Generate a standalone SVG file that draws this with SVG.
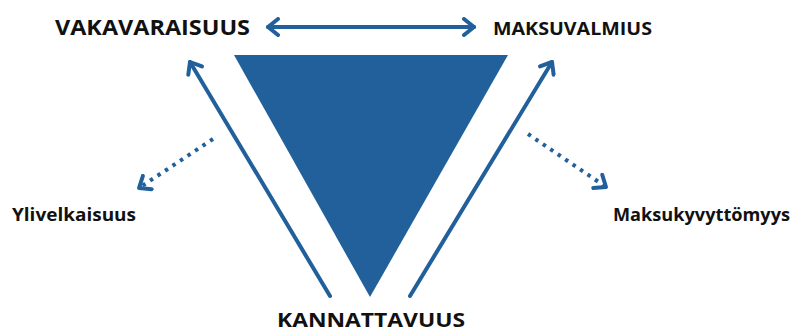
<svg xmlns="http://www.w3.org/2000/svg" width="799" height="333" viewBox="0 0 799 333">
<style>
.lbl{font-family:"Open Sans","Liberation Sans",sans-serif;font-weight:700;fill:#111}
.big{font-size:22px}
.bot{font-size:20px}
.med{font-size:17.5px}
.sm{font-size:17px}
.ln{stroke:#22609C;stroke-width:4;fill:none;stroke-linecap:round}
.dot{stroke:#22609C;stroke-width:4;fill:none;stroke-dasharray:3.5 5.5}
</style>
<defs>
<marker id="ah" markerUnits="userSpaceOnUse" viewBox="-14 -10 18 20" markerWidth="18" markerHeight="20" refX="0" refY="0" orient="auto-start-reverse">
<path d="M-10,-8 L0,0 L-10,8" fill="none" stroke="#22609C" stroke-width="4" stroke-linecap="round" stroke-linejoin="round"/>
</marker>
</defs>
<rect width="799" height="333" fill="#fff"/>
<g id="triangle"><polygon points="234,55 508,55 370,297" fill="#22609C"/></g>
<g id="vakavaraisuus"><text class="lbl big" x="55" y="35" textLength="195" lengthAdjust="spacingAndGlyphs">VAKAVARAISUUS</text></g>
<g id="maksuvalmius"><text class="lbl med" x="493" y="35" textLength="159" lengthAdjust="spacingAndGlyphs">MAKSUVALMIUS</text></g>
<g id="kannattavuus"><text class="lbl bot" x="277" y="327" textLength="188" lengthAdjust="spacingAndGlyphs">KANNATTAVUUS</text></g>
<g id="ylivelkaisuus"><text class="lbl sm" x="12" y="221" textLength="124" lengthAdjust="spacingAndGlyphs">Ylivelkaisuus</text></g>
<g id="maksukyvyttomyys"><text class="lbl sm" x="613" y="221" textLength="177" lengthAdjust="spacingAndGlyphs">Maksukyvyttömyys</text></g>
<g id="connectors">
<line class="ln" x1="268" y1="27" x2="474" y2="27" marker-start="url(#ah)" marker-end="url(#ah)"/>
<line class="ln" x1="330" y1="296" x2="190" y2="62" marker-end="url(#ah)"/>
<line class="ln" x1="410" y1="296" x2="552" y2="62" marker-end="url(#ah)"/>
<line class="dot" x1="213" y1="139" x2="139" y2="188" marker-end="url(#ah)"/>
<line class="dot" x1="528" y1="134" x2="606" y2="187" marker-end="url(#ah)"/>
</g>
</svg>
